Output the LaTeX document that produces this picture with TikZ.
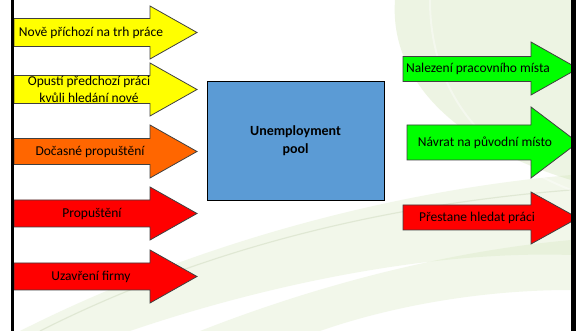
\documentclass[tikz,border=0pt]{standalone}
\usepackage{fontspec}
\setmainfont{Carlito}
\definecolor{swoosh}{RGB}{205,225,175}
\definecolor{poolblue}{RGB}{91,155,213}
\definecolor{flowyellow}{RGB}{255,255,0}
\definecolor{floworange}{RGB}{255,102,0}
\definecolor{flowred}{RGB}{255,0,0}
\definecolor{flowgreen}{RGB}{0,255,0}
\tikzset{
  flow/.style={draw=black!75,line width=.8pt},
  lbl/.style={font=\fontsize{13.5}{17}\selectfont,align=center,inner sep=0pt},
}
\begin{document}
\begin{tikzpicture}[x=1pt,y=-1pt]
      \useasboundingbox[fill=white](0,0)rectangle(576,331);
      % background swooshes
      \begin{scope}
        \fill[swoosh,opacity=.35](395,0)..controls(390,70)and(440,140)..(571,180)--(571,0)--cycle;
        \fill[swoosh,opacity=.25](20,331)..controls(200,240)and(400,190)..(571,175)--(571,255)..controls(420,250)and(250,290)..(130,331)--cycle;
        \fill[swoosh,opacity=.25](200,331)..controls(330,280)and(460,250)..(571,240)--(571,290)..controls(470,290)and(380,310)..(320,331)--cycle;
        \draw[swoosh!85!black,opacity=.25,line width=1.2pt](40,331)..controls(200,250)and(380,205)..(571,190);
        \draw[white,opacity=.4,line width=2pt](430,0)..controls(430,80)and(470,150)..(571,190);
      \end{scope}

      % incoming flows
      \filldraw[flow,fill=flowyellow](14,18.5)--(150,18.5)--(150,6)--(197,32.5)--(150,59)--(150,46.5)--(14,46.5)--cycle;
      \filldraw[flow,fill=flowyellow](14,75.5)--(150,75.5)--(150,63)--(197,89.5)--(150,116)--(150,103.5)--(14,103.5)--cycle;
      \filldraw[flow,fill=floworange](14,138.5)--(150,138.5)--(150,125)--(197,151.5)--(150,178)--(150,164.5)--(14,164.5)--cycle;
      \filldraw[flow,fill=flowred](14,200)--(150,200)--(150,187)--(197,213.5)--(150,240)--(150,227)--(14,227)--cycle;
      \filldraw[flow,fill=flowred](14,263)--(150,263)--(150,250)--(197,276.5)--(150,303)--(150,290)--(14,290)--cycle;
      \node[lbl] (novy) at (91,32.5) {Nově příchozí na trh práce};
      \node[lbl] (opusti) at (89,89.5) {Opustí předchozí práci\\kvůli hledání nové};
      \node[lbl] (docasne) at (90,152) {Dočasné propuštění};
      \node[lbl] (propusteni) at (92,213.5) {Propuštění};
      \node[lbl] (uzavreni) at (91,276.5) {Uzavření firmy};

      % pool
      \filldraw[draw=black,line width=.8pt,fill=poolblue](207,81)rectangle(384,200);
      \node[lbl,font=\fontsize{14}{18}\selectfont\bfseries] (pool) at (295.5,140.5) {Unemployment\\pool};

      % outgoing flows
      \filldraw[flow,fill=flowgreen](403,56.5)--(531,56.5)--(531,42)--(578,68.5)--(531,95)--(531,81.5)--(403,81.5)--cycle;
      \filldraw[flow,fill=flowgreen](407,125)--(531,125)--(531,107)--(578,142.5)--(531,178)--(531,160)--(407,160)--cycle;
      \filldraw[flow,fill=flowred](403,205)--(531,205)--(531,192)--(578,218)--(531,244)--(531,230)--(403,230)--cycle;
      \node[lbl] (nalezeni) at (478,69) {Nalezení pracovního místa};
      \node[lbl] (navrat) at (485,143) {Návrat na původní místo};
      \node[lbl] (prestane) at (477,218) {Přestane hledat práci};

      % frame
      \fill[black](11,0)rectangle(14,331);
      \fill[black](571,0)rectangle(576,331);
    \end{tikzpicture}
\end{document}
